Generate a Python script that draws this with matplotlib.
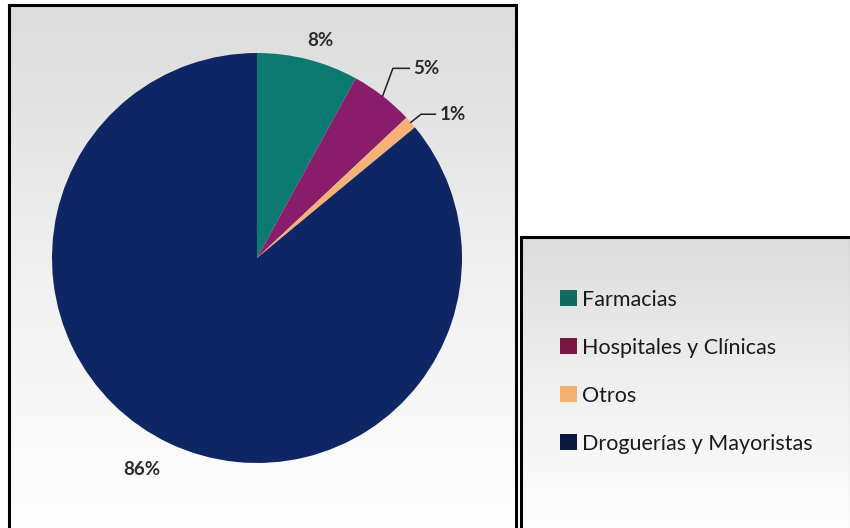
import numpy as np
import matplotlib
matplotlib.use("Agg")
import matplotlib.pyplot as plt
from matplotlib.patches import Patch
from matplotlib.colors import LinearSegmentedColormap

categories = ["Farmacias", "Hospitales y Clínicas", "Otros", "Droguerías y Mayoristas"]
values = [8, 5, 1, 86]
labels = ["8%", "5%", "1%", "86%"]
colors = ["#0b7a70", "#8a1c6c", "#f6b276", "#0e2663"]
legend_colors = ["#0f6b62", "#7a1440", "#f7b070", "#0c1840"]

plt.rcParams['font.family'] = ['Lato', 'DejaVu Sans']

W, H = 850, 528
fig = plt.figure(figsize=(W / 100, H / 100), dpi=100)
fig.patch.set_facecolor("white")

def fx(x): return x / W
def fy(y): return 1 - y / H

grad = np.linspace(0, 1, 256).reshape(-1, 1)
cmap = LinearSegmentedColormap.from_list("g", ["#dcdcdc", "#f0f0f0", "#ffffff"])

def panel(x0, y0, x1, y1):
    ax = fig.add_axes([fx(x0), fy(y1), fx(x1) - fx(x0), fy(y0) - fy(y1)])
    ax.imshow(grad, aspect="auto", cmap=cmap, extent=[0, 1, 0, 1], origin="upper")
    ax.set_xlim(0, 1); ax.set_ylim(0, 1)
    ax.set_xticks([]); ax.set_yticks([])
    for s in ["top", "left", "right"]:
        ax.spines[s].set_linewidth(2.2)
        ax.spines[s].set_color("black")
    ax.spines["bottom"].set_visible(False)
    return ax

panel(9, 5, 516, 540)
panel(521, 237, 851, 540)

# pie axes: center (257,258), radius 205
cx, cy, r = 257, 258, 205
pax = fig.add_axes([fx(cx - r), fy(cy + r), 2 * r / W, 2 * r / H])
wedges, _ = pax.pie(values, colors=colors, startangle=90, counterclock=False,
                    wedgeprops=dict(linewidth=0))
pax.set_xlim(-1, 1); pax.set_ylim(-1, 1)
pax.set_aspect("auto")
pax.axis("off")

# wedge mid angles (clockwise from top)
cum = np.cumsum([0] + values)
mids = [(cum[i] + cum[i + 1]) / 2 / 100 * 2 * np.pi for i in range(len(values))]

def pt(theta, rad):
    return rad * np.sin(theta), rad * np.cos(theta)

tkw = dict(fontsize=13.5, fontweight="bold", color="#2a2a2a", ha="center", va="center")
# 8%
x, y = pt(mids[0] + 0.03, 1.105)
pax.text(x, y, labels[0], **tkw)
# 86%
x, y = pt(mids[3] + 0.06, 1.175)
pax.text(x, y, labels[3], **tkw)
# 5% with leader
x0, y0 = pt(mids[1], 1.0)
x1, y1 = x0 + 0.05, y0 + 0.135
x2, y2 = x1 + 0.08, y1
pax.plot([x0, x1, x2], [y0, y1, y2], color="#222222", lw=1.1, clip_on=False)
pax.text(x2 + 0.02, y2, labels[1], **{**tkw, "ha": "left"})
# 1% with leader
x0, y0 = pt(mids[2], 1.0)
x1, y1 = x0 + 0.05, y0 + 0.04
x2, y2 = x1 + 0.07, y1
pax.plot([x0, x1, x2], [y0, y1, y2], color="#222222", lw=1.1, clip_on=False)
pax.text(x2 + 0.02, y2, labels[2], **{**tkw, "ha": "left"})

handles = [Patch(facecolor=c, edgecolor="none") for c in legend_colors]
leg = fig.legend(handles, categories, loc="upper left",
                 bbox_to_anchor=(fx(551), fy(281)), frameon=False,
                 fontsize=15.5, handlelength=0.8, handleheight=0.8,
                 handletextpad=0.25, labelspacing=1.3, borderaxespad=0)
for t in leg.get_texts():
    t.set_color("#1a1a1a")

fig.savefig("out.png", dpi=100, facecolor="white")
